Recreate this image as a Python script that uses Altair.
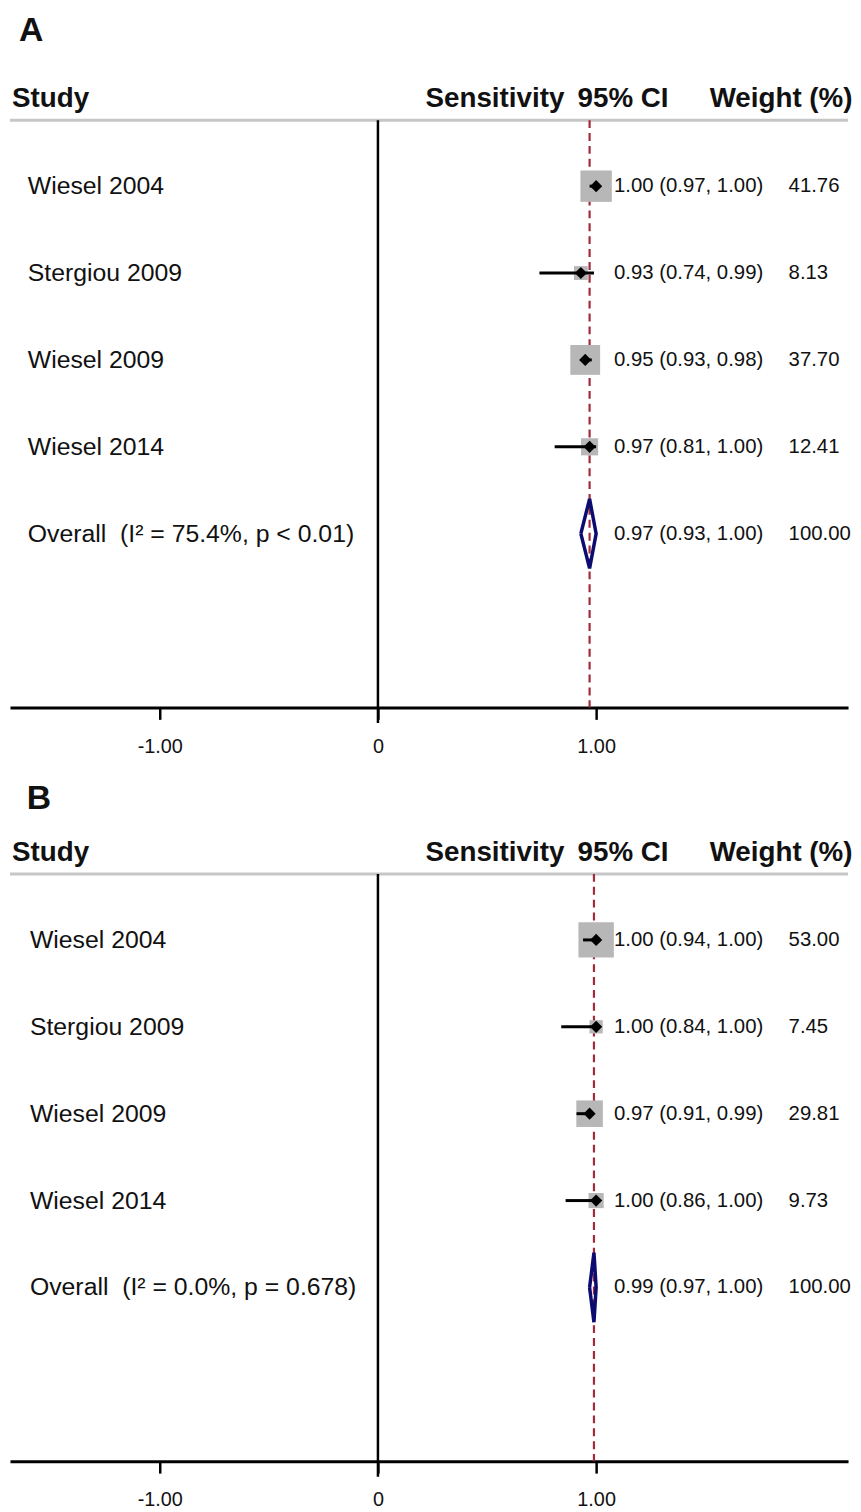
import altair as alt
import pandas as pd

# ---------------- data ----------------
studies = ["Wiesel 2004", "Stergiou 2009", "Wiesel 2009", "Wiesel 2014"]

est_a = [1.00, 0.93, 0.95, 0.97]
lo_a = [0.97, 0.74, 0.93, 0.81]
hi_a = [1.00, 0.99, 0.98, 1.00]
wt_a = [41.76, 8.13, 37.70, 12.41]
overall_a = [0.97, 0.93, 1.00]
overall_wt_a = 100.00
overall_label_a = "Overall\u00a0\u00a0(I\u00b2 = 75.4%, p < 0.01)"

est_b = [1.00, 1.00, 0.97, 1.00]
lo_b = [0.94, 0.84, 0.91, 0.86]
hi_b = [1.00, 1.00, 0.99, 1.00]
wt_b = [53.00, 7.45, 29.81, 9.73]
overall_b = [0.99, 0.97, 1.00]
overall_wt_b = 100.00
overall_label_b = "Overall\u00a0\u00a0(I\u00b2 = 0.0%, p = 0.678)"

panel_letters = ["A", "B"]
headers = ["Study", "Sensitivity", "95% CI", "Weight (%)"]
tick_values = [-1, 0, 1]

# ---------------- layout / style ----------------
FONT = "Liberation Sans"
TXT = "#111111"
W, H = 845, 699
XMIN = -1.6864
XMAX = XMIN + W / 220.0
YTOP = H / 87.6
xs = alt.Scale(domain=[XMIN, XMAX], nice=False, zero=False)
ys = alt.Scale(domain=[0, YTOP], nice=False, zero=False)
HLINE_Y = 6.76

AXIS = alt.Axis(
    values=tick_values, title=None, grid=False,
    labelExpr="datum.value == 0 ? '0' : (datum.value < 0 ? '-' : '') + format(abs(datum.value), '.2f')",
    labelFont=FONT, labelFontSize=20, labelColor=TXT, labelPadding=17,
    tickSize=12, tickWidth=2.5, tickColor="black",
    domainColor="black", domainWidth=3, labelFlush=False,
)


def XF(f):
    return alt.X(f, type="quantitative", scale=xs, axis=AXIS)


def YF(f):
    return alt.Y(f, type="quantitative", scale=ys, axis=None)


def XD(v):
    return alt.XDatum(v, type="quantitative", scale=xs, axis=AXIS)


def YD(v):
    return alt.YDatum(v, type="quantitative", scale=ys, axis=None)


one = pd.DataFrame({"k": [0]})


def panel(letter, letter_x, letter_y, name_x, est, lo, hi, wt, overall, overall_wt, olabel):
    n = len(studies)
    rows = [6 - i for i in range(n)]
    orow = 6 - n
    df = pd.DataFrame({"study": studies, "est": est, "lo": lo, "hi": hi, "wt": wt, "row": rows})
    lab = pd.DataFrame({
        "label": studies + [olabel],
        "row": rows + [orow],
        "ci": [f"{e:.2f} ({l:.2f}, {h:.2f})" for e, l, h in zip(est, lo, hi)]
        + [f"{overall[0]:.2f} ({overall[1]:.2f}, {overall[2]:.2f})"],
        "wtxt": [f"{w:.2f}" for w in wt] + [f"{overall_wt:.2f}"],
    })
    dia = pd.DataFrame({
        "x": [overall[1], overall[0], overall[2], overall[0], overall[1]],
        "y": [orow, orow + 0.4, orow, orow - 0.4, orow],
        "o": [0, 1, 2, 3, 4],
    })

    hline = alt.Chart(one).mark_rule(color="#c6c6c6", strokeWidth=3).encode(
        x=XD(XMIN), x2=alt.X2Datum(XMAX), y=YD(HLINE_Y))
    zero = alt.Chart(one).mark_rule(color="black", strokeWidth=2.5).encode(
        x=XD(0), y=YD(HLINE_Y), y2=alt.Y2Datum(-0.18))
    dashed = alt.Chart(one).mark_rule(color="#a3293c", strokeWidth=2.2, strokeDash=[8, 5]).encode(
        x=XD(overall[0]), y=YD(HLINE_Y), y2=alt.Y2Datum(0))

    squares = alt.Chart(df).mark_square(color="#b7b7b7", opacity=1).encode(
        x=XF("est"), y=YF("row"),
        size=alt.Size("wt:Q", scale=alt.Scale(domain=[0, 100], range=[0, 2400]), legend=None))
    ci = alt.Chart(df).mark_rule(color="black", strokeWidth=3).encode(
        x=XF("lo"), x2="hi", y=YF("row"))
    pts = alt.Chart(df).mark_point(shape="diamond", filled=True, color="black", opacity=1, size=150).encode(
        x=XF("est"), y=YF("row"))
    diamond = alt.Chart(dia).mark_line(color="#0c0c70", strokeWidth=3.5, strokeJoin="miter").encode(
        x=XF("x"), y=YF("y"), order="o:Q")

    tbase = dict(baseline="middle", font=FONT, color=TXT)
    names = alt.Chart(lab).mark_text(align="left", fontSize=25, **tbase).encode(
        x=XD(name_x), y=YF("row"), text="label:N")
    citxt = alt.Chart(lab).mark_text(align="left", fontSize=20.5, **tbase).encode(
        x=XD(1.082), y=YF("row"), text="ci:N")
    wtxt = alt.Chart(lab).mark_text(align="left", fontSize=20.5, **tbase).encode(
        x=XD(1.882), y=YF("row"), text="wtxt:N")

    hb = dict(baseline="middle", font=FONT, color=TXT, fontSize=28, fontWeight="bold")
    h1 = alt.Chart(one).mark_text(align="left", text=headers[0], **hb).encode(x=XD(-1.677), y=YD(7.0))
    h2 = alt.Chart(one).mark_text(align="left", text=headers[1], **hb).encode(x=XD(0.218), y=YD(7.0))
    h3 = alt.Chart(one).mark_text(align="right", text=headers[2], **hb).encode(x=XD(1.332), y=YD(7.0))
    h4 = alt.Chart(one).mark_text(align="right", text=headers[3], **hb).encode(x=XD(2.175), y=YD(7.0))
    let = alt.Chart(one).mark_text(align="left", text=letter, baseline="top", font=FONT,
                                   color=TXT, fontSize=34, fontWeight="bold").encode(
        x=XD(letter_x), y=YD(letter_y))

    return alt.layer(hline, zero, dashed, squares, ci, pts, diamond,
                     names, citxt, wtxt, h1, h2, h3, h4, let).properties(width=W, height=H)


pa = panel(panel_letters[0], -1.645, YTOP, -1.605, est_a, lo_a, hi_a, wt_a, overall_a, overall_wt_a, overall_label_a)
pb = panel(panel_letters[1], -1.609, 7.82, -1.595, est_b, lo_b, hi_b, wt_b, overall_b, overall_wt_b, overall_label_b)

chart = alt.vconcat(pa, pb, spacing=12).properties(padding=0, background="white").configure_view(
    stroke=None).configure_concat(spacing=12)

chart.save("out.html", embed_options={"renderer": "svg", "actions": False})
